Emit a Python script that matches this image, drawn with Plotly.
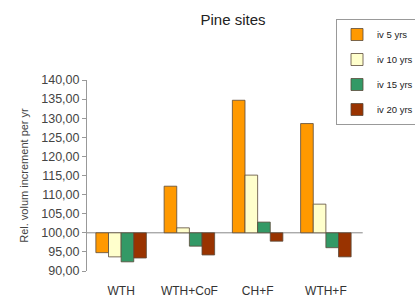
import plotly.graph_objects as go

categories = ["WTH", "WTH+CoF", "CH+F", "WTH+F"]
series_names = ["iv 5 yrs", "iv 10 yrs", "iv 15 yrs", "iv 20 yrs"]
iv5 = [94.8, 112.2, 134.7, 128.6]
iv10 = [93.7, 101.3, 115.1, 107.5]
iv15 = [92.4, 96.5, 102.8, 96.1]
iv20 = [93.4, 94.2, 97.8, 93.7]
BASE = 100
colors = ["#FF9900", "#FFFFCC", "#339966", "#993300"]
y_ticks = [90, 95, 100, 105, 110, 115, 120, 125, 130, 135, 140]

FONT = "Liberation Sans, Arial, sans-serif"
fig = go.Figure()
for name, vals, col in zip(series_names, [iv5, iv10, iv15, iv20], colors):
    fig.add_trace(go.Bar(
        x=categories, y=[v - BASE for v in vals], base=BASE, name=name,
        legendgroup=name,
        marker=dict(color=col, line=dict(color="#5a4a3a", width=0.8)),
    ))

fig.add_shape(type="line", xref="paper", yref="y", x0=0, x1=1.01, y0=BASE, y1=BASE,
              line=dict(color="#888888", width=1), layer="below")

fig.update_layout(
    width=415, height=300,
    margin=dict(l=87, r=55, t=80, b=29, autoexpand=False),
    paper_bgcolor="white", plot_bgcolor="white",
    separators=",.",
    barmode="group", bargap=0.26, bargroupgap=0,
    font=dict(family=FONT, color="#333333"),
    title=dict(text="Pine sites", x=233 / 415, xanchor="center", y=1 - 20 / 300,
               yanchor="middle", font=dict(size=15, color="#222222")),
    showlegend=True,
    legend=dict(x=(336 - 87) / 273, xanchor="left", y=(271 - 19) / 191, yanchor="top",
                bordercolor="#999999", borderwidth=1, bgcolor="white",
                font=dict(size=9.5, color="#222222"), tracegroupgap=6,
                itemwidth=30),
    xaxis=dict(showline=False, ticks="", showgrid=False, tickfont=dict(size=12, color="#333333"),
               ticklabelstandoff=11),
    yaxis=dict(range=[90, 140], tickvals=y_ticks, tickformat=".2f", showgrid=False,
               zeroline=False, showline=True, linecolor="#999999", linewidth=1,
               ticks="outside", ticklen=4, tickcolor="#999999",
               tickfont=dict(size=12.5, color="#444444"),
               title=dict(text="Rel. volum increment per yr", font=dict(size=11, color="#444444"),
                          standoff=10)),
)

fig.write_html("out.html", post_script="document.body.style.margin='0';",
               config={"displayModeBar": False})
